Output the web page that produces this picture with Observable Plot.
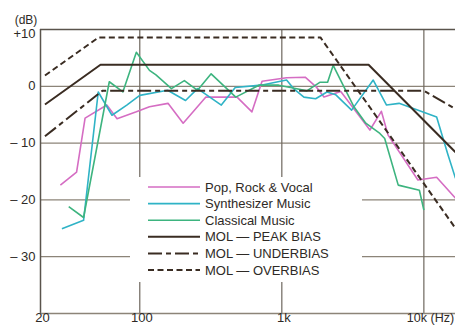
<!DOCTYPE html>
<html><head><meta charset="utf-8">
<script src="https://cdn.jsdelivr.net/npm/d3@7"></script>
<script src="https://cdn.jsdelivr.net/npm/@observablehq/plot@0.6"></script>
<style>
html,body{margin:0;padding:0;background:#fff;}
#chart{width:455px;height:327px;overflow:hidden;}
</style></head><body><div id="chart"></div>
<script>
// ---- data ----
const popFreq = [27.6, 35.9, 41.2, 58.6, 69.2, 94.6, 117, 158, 202, 292, 484, 616, 726, 1080, 1460, 1760, 1980, 2600, 4170, 5020, 5600, 9080, 12300, 16700];
const popDb   = [-17.4, -15.1, -5.6, -3.3, -5.7, -4.5, -3.6, -3.0, -6.5, -1.9, -1.9, -4.5, 0.9, 1.5, 1.6, -0.2, -1.9, -0.9, -7.7, -4.4, -8.6, -16.5, -16.0, -19.7];

const synFreq = [28.3, 40.2, 51, 63.7, 81, 100, 157, 210, 255, 375, 470, 713, 1080, 1210, 1430, 1730, 2080, 2400, 3100, 4400, 5460, 6690, 12300, 14800, 16700];
const synDb   = [-25.1, -23.6, -1.0, -5.1, -3.3, -1.6, -0.7, -2.5, -0.4, -3.3, -0.2, 0.2, 1.1, -0.4, -1.9, -2.2, -1.0, -1.5, -4.2, 1.1, -3.3, -3.0, -5.4, -12.1, -16.2];

const claFreq = [31.6, 40.2, 61, 76, 94.6, 117, 130, 167, 206, 255, 318, 474, 690, 950, 1200, 1500, 1850, 2100, 2300, 3200, 3900, 4900, 5300, 6600, 9300, 10000];
const claDb   = [-21.2, -23.1, 0.8, -1.0, 6.0, 2.8, 2.0, -0.4, 1.0, -0.7, 2.2, -1.9, 0.2, 0.2, -0.3, -0.8, 0.7, 0.7, 3.7, -3.5, -6.5, -8.3, -9.2, -17.4, -18.3, -21.8];

const peakFreq  = [21.5, 52.9, 4080, 16700];
const peakDb    = [-3.2, 3.8, 3.8, -11.6];
const underFreq = [21.5, 54.5, 10000, 16700];
const underDb   = [-8.8, -0.8, -0.8, -4.0];
const overFreq  = [21.5, 51.3, 1870, 16700];
const overDb    = [1.9, 8.6, 8.6, -25.0];

const seriesNames = ["Pop, Rock & Vocal", "Synthesizer Music", "Classical Music", "MOL \u2014 PEAK BIAS", "MOL \u2014 UNDERBIAS", "MOL \u2014 OVERBIAS"];

const xTicks = [20, 100, 1000, 10000];
const xTickLabels = ["20", "100", "1k", "10k (Hz)"];
const yTicks = [10, 0, -10, -20, -30];
const yTickLabels = ["+10", "0", "\u2013 10", "\u2013 20", "\u2013 30"];
const yUnit = "(dB)";
const xDomain = [20, 16700];
const yDomain = [-40, 10];

// ---- styles ----
const styles = [
  {color: "#d56dc3", width: 1.6, dash: null},
  {color: "#2fb3c6", width: 1.6, dash: null},
  {color: "#3db47f", width: 1.6, dash: null},
  {color: "#3a2c22", width: 2, dash: null},
  {color: "#3a2c22", width: 2, dash: "14,4,5,4"},
  {color: "#3a2c22", width: 2, dash: "6,3.5"}
];
const TEXT = "#2e2a26";
const GRID = "#8c8478";
const FONT = "'Liberation Sans', Arial, sans-serif";

const freqs = [popFreq, synFreq, claFreq, peakFreq, underFreq, overFreq];
const dbs = [popDb, synDb, claDb, peakDb, underDb, overDb];
const tables = freqs.map((fs, k) => fs.map((f, i) => ({f, db: dbs[k][i]})));

const lineMarks = tables.map((t, k) => Plot.line(t, {
  x: "f", y: "db", stroke: styles[k].color, strokeWidth: styles[k].width,
  strokeDasharray: styles[k].dash || undefined, strokeLinejoin: "round", strokeLinecap: "butt"
}));

const plot = Plot.plot({
  width: 455, height: 327,
  marginLeft: 40, marginRight: 0, marginTop: 29, marginBottom: 14,
  x: {type: "log", domain: xDomain, axis: null},
  y: {domain: yDomain, axis: null},
  style: {fontFamily: FONT, background: "#fff", color: TEXT},
  marks: [
    Plot.ruleY(yTicks.filter(d => d !== 10), {stroke: GRID, strokeWidth: 1.2}),
    Plot.ruleX(xTicks.filter(d => d !== 20), {stroke: "#6e675e", strokeWidth: 1.2}),
    Plot.ruleX([xDomain[0]], {stroke: "#5a544c", strokeWidth: 1.5}),
    Plot.ruleY([yDomain[1]], {stroke: "#5a544c", strokeWidth: 1.5}),
    Plot.ruleY([yDomain[0]], {stroke: "#8c8478", strokeWidth: 1.5}),
    ...lineMarks,
    Plot.text(xTicks.slice(0, 3), {x: d => d, text: (d, i) => xTickLabels[i], frameAnchor: "bottom", dy: 8.5, dx: 2, fontSize: 13, fill: TEXT}),
    Plot.text(xTicks.slice(3), {x: d => d, text: (d, i) => xTickLabels[3 + i], frameAnchor: "bottom", dy: 8.5, dx: -17, textAnchor: "start", fontSize: 12.5, fill: TEXT}),
    Plot.text(yTicks.slice(0, 1), {y: d => d, text: (d, i) => yTickLabels[i], frameAnchor: "left", dx: -5, dy: 4, textAnchor: "end", fontSize: 13, fill: TEXT}),
    Plot.text(yTicks.slice(1), {y: d => d, text: (d, i) => yTickLabels[1 + i], frameAnchor: "left", dx: -5, textAnchor: "end", fontSize: 13, fill: TEXT}),
    Plot.text([yUnit], {text: d => d, frameAnchor: "top-left", dx: -14.5, dy: -14, textAnchor: "middle", fontSize: 12, fill: TEXT})
  ]
});

// ---- legend (overlay box) ----
const svg = d3.select(plot);
const lg = svg.append("g").attr("text-anchor", "start");
lg.append("rect").attr("x", 130).attr("y", 177).attr("width", 232).attr("height", 105).attr("fill", "#fff");
seriesNames.forEach((name, k) => {
  const y = 187 + k * 16.6;
  lg.append("line").attr("x1", 148).attr("x2", 200).attr("y1", y).attr("y2", y)
    .attr("stroke", styles[k].color).attr("stroke-width", styles[k].width)
    .attr("stroke-dasharray", styles[k].dash);
  lg.append("text").attr("x", 205).attr("y", y + 4.6).attr("font-size", 13)
    .attr("text-anchor", "start")
    .attr("fill", TEXT).attr("font-family", FONT).text(name);
});

document.getElementById("chart").appendChild(plot);
</script></body></html>
